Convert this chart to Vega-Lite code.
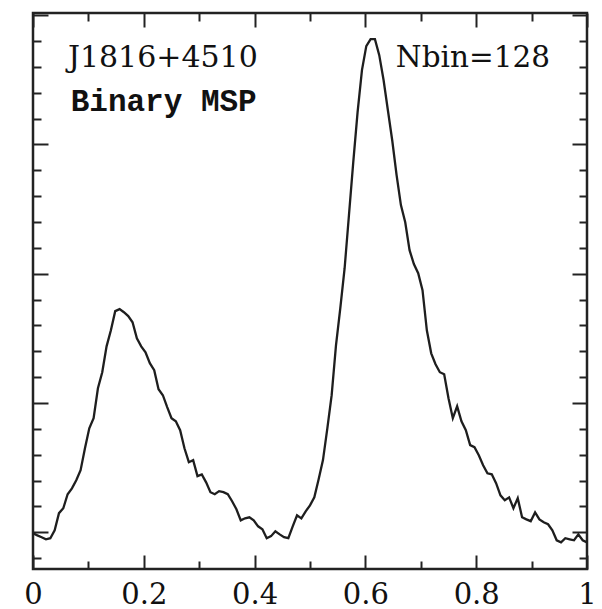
{
  "$schema": "https://vega.github.io/schema/vega-lite/v6.json",
  "width": 554,
  "height": 556,
  "autosize": {"type": "none"},
  "padding": {"left": 33, "top": 13, "right": 15, "bottom": 40},
  "background": "white",
  "config": {
    "view": {"stroke": "#222", "strokeWidth": 2.5},
    "axis": {"domain": false, "grid": false, "ticks": true, "tickColor": "#222", "tickWidth": 2, "title": null,
      "labelFont": "DejaVu Serif", "labelFontSize": 29, "labelColor": "#111"}
  },
  "data": {"values": [
    {"phase": 0, "flux": -0.04}, {"phase": 0.0078, "flux": -0.12}, {"phase": 0.0156, "flux": -0.19}, {"phase": 0.0234, "flux": -0.27},
    {"phase": 0.0313, "flux": -0.23}, {"phase": 0.0391, "flux": 0.08}, {"phase": 0.0469, "flux": 0.74}, {"phase": 0.0547, "flux": 0.93},
    {"phase": 0.0625, "flux": 1.47}, {"phase": 0.0703, "flux": 1.70}, {"phase": 0.0781, "flux": 2.01}, {"phase": 0.0859, "flux": 2.40},
    {"phase": 0.0938, "flux": 3.25}, {"phase": 0.1016, "flux": 4.02}, {"phase": 0.1094, "flux": 4.41}, {"phase": 0.1172, "flux": 5.57},
    {"phase": 0.125, "flux": 6.19}, {"phase": 0.1328, "flux": 7.19}, {"phase": 0.1406, "flux": 7.81}, {"phase": 0.1484, "flux": 8.55},
    {"phase": 0.1563, "flux": 8.63}, {"phase": 0.1641, "flux": 8.51}, {"phase": 0.1719, "flux": 8.36}, {"phase": 0.1797, "flux": 8.12},
    {"phase": 0.1875, "flux": 7.50}, {"phase": 0.1953, "flux": 7.19}, {"phase": 0.2031, "flux": 6.96}, {"phase": 0.2109, "flux": 6.54},
    {"phase": 0.2188, "flux": 6.27}, {"phase": 0.2266, "flux": 5.53}, {"phase": 0.2344, "flux": 5.30}, {"phase": 0.2422, "flux": 4.84},
    {"phase": 0.25, "flux": 4.41}, {"phase": 0.2578, "flux": 4.29}, {"phase": 0.2656, "flux": 3.95}, {"phase": 0.2734, "flux": 3.25},
    {"phase": 0.2813, "flux": 2.71}, {"phase": 0.2891, "flux": 2.79}, {"phase": 0.2969, "flux": 2.17}, {"phase": 0.3047, "flux": 2.24},
    {"phase": 0.3125, "flux": 1.93}, {"phase": 0.3203, "flux": 1.55}, {"phase": 0.3281, "flux": 1.47}, {"phase": 0.3359, "flux": 1.59},
    {"phase": 0.3438, "flux": 1.55}, {"phase": 0.3516, "flux": 1.47}, {"phase": 0.3594, "flux": 1.20}, {"phase": 0.3672, "flux": 0.89},
    {"phase": 0.375, "flux": 0.46}, {"phase": 0.3828, "flux": 0.54}, {"phase": 0.3906, "flux": 0.58}, {"phase": 0.3984, "flux": 0.46},
    {"phase": 0.4063, "flux": 0.23}, {"phase": 0.4141, "flux": 0.12}, {"phase": 0.4219, "flux": -0.23}, {"phase": 0.4297, "flux": -0.15},
    {"phase": 0.4375, "flux": 0.04}, {"phase": 0.4453, "flux": -0.08}, {"phase": 0.4531, "flux": -0.19}, {"phase": 0.4609, "flux": -0.23},
    {"phase": 0.4688, "flux": 0.23}, {"phase": 0.4766, "flux": 0.66}, {"phase": 0.4844, "flux": 0.54}, {"phase": 0.4922, "flux": 0.81},
    {"phase": 0.5, "flux": 1.04}, {"phase": 0.5078, "flux": 1.35}, {"phase": 0.5156, "flux": 2.05}, {"phase": 0.5234, "flux": 2.79},
    {"phase": 0.5313, "flux": 4.02}, {"phase": 0.5391, "flux": 5.30}, {"phase": 0.5469, "flux": 7.23}, {"phase": 0.5547, "flux": 8.67},
    {"phase": 0.5625, "flux": 10.21}, {"phase": 0.5703, "flux": 12.26}, {"phase": 0.5781, "flux": 14.31}, {"phase": 0.5859, "flux": 16.25},
    {"phase": 0.5938, "flux": 17.87}, {"phase": 0.6016, "flux": 18.80}, {"phase": 0.6094, "flux": 19.07}, {"phase": 0.6172, "flux": 19.07},
    {"phase": 0.625, "flux": 18.45}, {"phase": 0.6328, "flux": 17.49}, {"phase": 0.6406, "flux": 16.32}, {"phase": 0.6484, "flux": 15.16},
    {"phase": 0.6563, "flux": 13.81}, {"phase": 0.6641, "flux": 12.65}, {"phase": 0.6719, "flux": 11.99}, {"phase": 0.6797, "flux": 10.91},
    {"phase": 0.6875, "flux": 10.37}, {"phase": 0.6953, "flux": 10.02}, {"phase": 0.7031, "flux": 9.36}, {"phase": 0.7109, "flux": 7.81},
    {"phase": 0.7188, "flux": 6.92}, {"phase": 0.7266, "flux": 6.50}, {"phase": 0.7344, "flux": 6.19}, {"phase": 0.7422, "flux": 6.11},
    {"phase": 0.75, "flux": 5.18}, {"phase": 0.7578, "flux": 4.41}, {"phase": 0.7656, "flux": 4.87}, {"phase": 0.7734, "flux": 4.29},
    {"phase": 0.7813, "flux": 3.95}, {"phase": 0.7891, "flux": 3.37}, {"phase": 0.7969, "flux": 3.29}, {"phase": 0.8047, "flux": 2.98},
    {"phase": 0.8125, "flux": 2.59}, {"phase": 0.8203, "flux": 2.28}, {"phase": 0.8281, "flux": 2.24}, {"phase": 0.8359, "flux": 1.90},
    {"phase": 0.8438, "flux": 1.43}, {"phase": 0.8516, "flux": 1.24}, {"phase": 0.8594, "flux": 1.35}, {"phase": 0.8672, "flux": 0.93},
    {"phase": 0.875, "flux": 1.32}, {"phase": 0.8828, "flux": 0.58}, {"phase": 0.8906, "flux": 0.50}, {"phase": 0.8984, "flux": 0.43},
    {"phase": 0.9063, "flux": 0.77}, {"phase": 0.9141, "flux": 0.50}, {"phase": 0.9219, "flux": 0.39}, {"phase": 0.9297, "flux": 0.31},
    {"phase": 0.9375, "flux": 0.08}, {"phase": 0.9453, "flux": -0.31}, {"phase": 0.9531, "flux": -0.39}, {"phase": 0.9609, "flux": -0.23},
    {"phase": 0.9688, "flux": -0.27}, {"phase": 0.9766, "flux": -0.31}, {"phase": 0.9844, "flux": -0.08}, {"phase": 0.9922, "flux": -0.31},
    {"phase": 1, "flux": -0.39}
  ]},
  "layer": [
    {
      "mark": {"type": "line", "color": "#1e1e1e", "strokeWidth": 2.3},
      "encoding": {
        "x": {"field": "phase", "type": "quantitative",
          "scale": {"domain": [0, 1], "nice": false, "zero": false},
          "axis": {"orient": "bottom", "values": [0, 0.1, 0.2, 0.3, 0.4, 0.5, 0.6, 0.7, 0.8, 0.9, 1],
            "format": "~g", "labelFlush": false, "labelPadding": 25,
            "labelExpr": "round(datum.value*10) % 2 === 0 ? datum.label : ''",
            "tickSize": {"condition": {"test": "round(datum.value*10) % 2 === 0", "value": -14}, "value": -8}}},
        "y": {"field": "flux", "type": "quantitative",
          "scale": {"domain": [-1.42, 20.08], "nice": false, "zero": false},
          "axis": {"orient": "left", "labels": false,
            "values": [-1, 0, 1, 2, 3, 4, 5, 6, 7, 8, 9, 10, 11, 12, 13, 14, 15, 16, 17, 18, 19, 20],
            "tickSize": {"condition": {"test": "datum.value % 5 === 0", "value": -15}, "value": -8}}}
      }
    },
    {
      "mark": {"type": "line", "opacity": 0},
      "encoding": {
        "x": {"field": "phase", "type": "quantitative",
          "scale": {"domain": [0, 1], "nice": false, "zero": false},
          "axis": {"orient": "top", "labels": false, "values": [0, 0.1, 0.2, 0.3, 0.4, 0.5, 0.6, 0.7, 0.8, 0.9, 1],
            "tickSize": {"condition": {"test": "round(datum.value*10) % 2 === 0", "value": -14}, "value": -8}}},
        "y": {"field": "flux", "type": "quantitative",
          "scale": {"domain": [-1.42, 20.08], "nice": false, "zero": false},
          "axis": {"orient": "right", "labels": false,
            "values": [-1, 0, 1, 2, 3, 4, 5, 6, 7, 8, 9, 10, 11, 12, 13, 14, 15, 16, 17, 18, 19, 20],
            "tickSize": {"condition": {"test": "datum.value % 5 === 0", "value": -15}, "value": -8}}}
      }
    },
    {
      "data": {"values": [{"label": "J1816+4510"}]},
      "mark": {"type": "text", "align": "left", "baseline": "alphabetic", "font": "DejaVu Serif", "fontSize": 30, "color": "#111"},
      "encoding": {
        "x": {"datum": 0.063, "type": "quantitative", "axis": null},
        "y": {"datum": 18.0, "type": "quantitative", "axis": null},
        "text": {"field": "label"}
      }
    },
    {
      "data": {"values": [{"label": "Nbin=128"}]},
      "mark": {"type": "text", "align": "left", "baseline": "alphabetic", "font": "DejaVu Serif", "fontSize": 29.5, "color": "#111"},
      "encoding": {
        "x": {"datum": 0.655, "type": "quantitative", "axis": null},
        "y": {"datum": 18.0, "type": "quantitative", "axis": null},
        "text": {"field": "label"}
      }
    },
    {
      "data": {"values": [{"label": "Binary MSP"}]},
      "mark": {"type": "text", "align": "left", "baseline": "alphabetic", "font": "Liberation Mono", "fontWeight": "bold", "fontSize": 31, "color": "#111"},
      "encoding": {
        "x": {"datum": 0.068, "type": "quantitative", "axis": null},
        "y": {"datum": 16.3, "type": "quantitative", "axis": null},
        "text": {"field": "label"}
      }
    }
  ],
  "resolve": {"axis": {"x": "independent", "y": "independent"}}
}
